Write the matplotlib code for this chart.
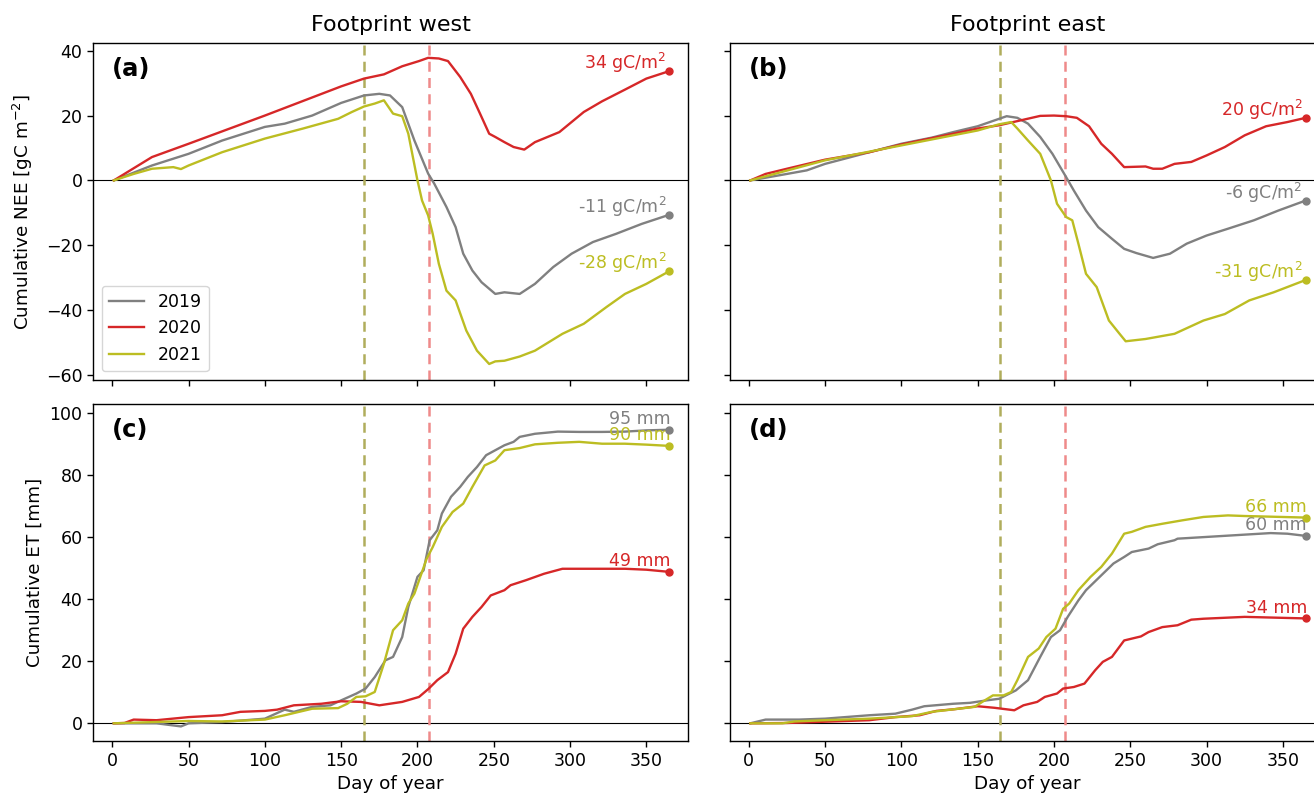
import matplotlib
matplotlib.use("Agg")
import matplotlib.pyplot as plt

plt.rcParams['font.family'] = ['DejaVu Sans']

years = ["2019", "2020", "2021"]
colors = ["#808080", "#d62728", "#bcbd22"]
panel_titles = ["Footprint west", "Footprint east"]
panel_letters = ["(a)", "(b)", "(c)", "(d)"]
xticks = [0, 50, 100, 150, 200, 250, 300, 350]
nee_yticks = [-60, -40, -20, 0, 20, 40]
et_yticks = [0, 20, 40, 60, 80, 100]
vline_days = [164.7, 207.4]
vline_colors = ["#b0ad5c", "#ef8a8a"]

# ---------- NEE west (a) ----------
nee_w_2019_d = [1, 26, 50, 72, 100, 113, 131, 150, 165, 175, 182, 190, 198, 207, 211, 219, 225, 230, 236, 242, 251, 257, 267, 277, 289, 301, 315, 330, 347, 365]
nee_w_2019_v = [0, 4.6, 8.2, 12.3, 16.5, 17.5, 20, 23.9, 26.2, 26.7, 26.2, 22.6, 12.3, 2.1, -1, -8.2, -14.4, -22.6, -27.8, -31.4, -35, -34.5, -35, -31.9, -26.7, -22.6, -19, -16.5, -13.4, -10.6]
nee_w_2020_d = [1, 26, 50, 100, 150, 165, 178, 190, 201, 207, 214, 220, 228, 235, 241, 247, 251, 257, 263, 270, 277, 293, 309, 321, 336, 350, 365]
nee_w_2020_v = [0, 7.2, 11.3, 20, 29, 31.4, 32.7, 35.2, 36.8, 37.8, 37.6, 36.8, 31.9, 26.7, 20.6, 14.4, 13.4, 11.8, 10.3, 9.5, 11.8, 14.9, 21.1, 24.4, 28, 31.4, 33.7]
nee_w_2021_d = [1, 14, 26, 40, 45, 50, 72, 100, 125, 148, 157, 165, 172, 178, 184, 190, 194, 200, 203, 207, 210, 214, 219, 225, 232, 239, 247, 251, 257, 267, 277, 295, 309, 324, 336, 350, 365]
nee_w_2021_v = [0, 2, 3.6, 4.1, 3.5, 4.6, 8.7, 12.9, 16, 19, 21.1, 22.8, 23.7, 24.7, 20.6, 19.8, 14.4, 0, -6.2, -10.8, -16.5, -25.7, -34, -37, -46.3, -52.5, -56.6, -55.8, -55.6, -54.3, -52.5, -47.3, -44.2, -39, -35, -31.9, -28]

# ---------- NEE east (b) ----------
nee_e_2019_d = [1, 25, 38, 50, 79, 100, 120, 134, 150, 161, 169, 176, 183, 191, 199, 208, 213, 221, 229, 238, 246, 254, 265, 276, 287, 300, 314, 331, 347, 365]
nee_e_2019_v = [0, 2, 3.1, 5.1, 8.7, 11.3, 13.2, 14.9, 16.7, 18.5, 19.8, 19.3, 17.5, 13.4, 8.2, 1, -3.1, -9.3, -14.4, -18, -21.1, -22.4, -23.9, -22.6, -19.5, -17, -14.9, -12.3, -9.3, -6.2]
nee_e_2020_d = [1, 11, 25, 50, 79, 100, 134, 150, 164, 178, 191, 200, 208, 215, 223, 231, 238, 246, 260, 265, 271, 279, 290, 300, 312, 325, 339, 353, 365]
nee_e_2020_v = [0, 2, 3.6, 6.4, 8.7, 11.1, 14.4, 16, 17, 18.5, 19.9, 20, 19.8, 19.3, 16.7, 11.3, 8.2, 4.1, 4.3, 3.6, 3.6, 5.1, 5.7, 7.7, 10.3, 13.9, 16.7, 18, 19.3]
nee_e_2021_d = [1, 50, 100, 150, 164, 172, 176, 183, 191, 198, 202, 208, 212, 216, 221, 228, 236, 243, 247, 260, 279, 298, 312, 328, 344, 365]
nee_e_2021_v = [0, 6.2, 10.8, 15.4, 17.3, 18, 16, 12.3, 8.2, 0, -7.2, -11.3, -12.3, -19.5, -28.8, -32.9, -43.2, -47.3, -49.6, -48.9, -47.3, -43.2, -41.2, -37, -34.5, -30.7]

# ---------- ET west (c) ----------
et_w_2019_d = [1, 29, 45, 50, 72, 100, 108, 113, 119, 131, 143, 150, 160, 166, 172, 179, 184, 190, 194, 200, 204, 208, 213, 216, 222, 228, 233, 239, 245, 251, 257, 263, 267, 277, 292, 306, 321, 336, 350, 365]
et_w_2019_v = [0, 0, -1, 0, 0.4, 1.5, 3.3, 4.4, 3.7, 5.3, 5.8, 7.4, 9.6, 11.2, 14.9, 20.3, 21.4, 27.8, 37.5, 47.2, 49.3, 59, 62.2, 67.6, 73, 76.2, 79.4, 82.6, 86.4, 88, 89.6, 90.7, 92.3, 93.3, 94, 93.9, 93.9, 94, 94.4, 94.6]
et_w_2020_d = [1, 8, 14, 29, 50, 72, 84, 100, 108, 119, 137, 150, 163, 175, 190, 201, 207, 213, 220, 225, 230, 236, 242, 248, 257, 261, 271, 283, 295, 306, 336, 350, 365]
et_w_2020_v = [0, 0.1, 1.2, 1, 2, 2.6, 3.7, 4, 4.4, 5.8, 6.3, 7.1, 6.9, 5.8, 6.9, 8.5, 11, 13.9, 16.5, 22.4, 30.5, 34.3, 37.5, 41.2, 42.9, 44.5, 46.1, 48.2, 49.8, 49.8, 49.8, 49.5, 48.8]
et_w_2021_d = [1, 50, 72, 100, 113, 131, 148, 154, 160, 166, 172, 178, 184, 190, 194, 198, 206, 210, 216, 223, 230, 236, 244, 251, 257, 267, 277, 292, 306, 321, 336, 350, 365]
et_w_2021_v = [0, 0.75, 0.6, 1.2, 2.6, 4.7, 4.9, 6.3, 8.5, 8.7, 10.1, 19.2, 30, 33.2, 38.6, 41.8, 53, 56.8, 63.3, 68.1, 70.8, 76.2, 83.1, 84.7, 88, 88.7, 89.9, 90.4, 90.7, 90.1, 90.1, 89.8, 89.4]

# ---------- ET east (d) ----------
et_e_2019_d = [1, 11, 33, 50, 79, 96, 107, 115, 134, 145, 156, 164, 175, 183, 191, 198, 204, 209, 216, 221, 230, 239, 246, 251, 262, 268, 279, 281, 298, 325, 342, 353, 365]
et_e_2019_v = [0, 1.2, 1.2, 1.5, 2.6, 3.1, 4.4, 5.5, 6.3, 6.6, 7.4, 7.9, 10.6, 13.9, 21.4, 27.8, 30, 34.3, 39.6, 42.9, 47.2, 51.5, 53.6, 55.2, 56.3, 57.7, 59, 59.5, 60, 60.8, 61.3, 61.1, 60.4]
et_e_2020_d = [1, 25, 79, 96, 112, 123, 134, 150, 161, 174, 180, 189, 194, 202, 206, 213, 220, 227, 232, 238, 246, 257, 262, 271, 281, 290, 298, 325, 365]
et_e_2020_v = [0, 0.1, 1, 2, 2.6, 4, 4.5, 5.5, 5, 4.2, 5.8, 6.9, 8.5, 9.6, 11.2, 11.7, 12.8, 17.1, 19.8, 21.4, 26.7, 28, 29.4, 31, 31.6, 33.4, 33.7, 34.3, 33.8]
et_e_2021_d = [1, 22, 30, 50, 79, 107, 120, 134, 148, 153, 160, 167, 172, 176, 183, 190, 195, 201, 206, 210, 216, 224, 231, 238, 246, 251, 260, 271, 284, 298, 314, 325, 365]
et_e_2021_v = [0, 0, 0.6, 1, 1.5, 2.3, 3.7, 4.5, 5.3, 6.9, 9, 9, 10.1, 13.9, 21.4, 24.1, 27.8, 30.5, 36.9, 38.6, 42.9, 47.2, 50.4, 54.7, 61.1, 61.7, 63.3, 64.3, 65.4, 66.5, 67, 66.8, 66.3]

nee_w = [(nee_w_2019_d, nee_w_2019_v), (nee_w_2020_d, nee_w_2020_v), (nee_w_2021_d, nee_w_2021_v)]
nee_e = [(nee_e_2019_d, nee_e_2019_v), (nee_e_2020_d, nee_e_2020_v), (nee_e_2021_d, nee_e_2021_v)]
et_w = [(et_w_2019_d, et_w_2019_v), (et_w_2020_d, et_w_2020_v), (et_w_2021_d, et_w_2021_v)]
et_e = [(et_e_2019_d, et_e_2019_v), (et_e_2020_d, et_e_2020_v), (et_e_2021_d, et_e_2021_v)]

nee_w_labels = ["-11 gC/m$^2$", "34 gC/m$^2$", "-28 gC/m$^2$"]
nee_e_labels = ["-6 gC/m$^2$", "20 gC/m$^2$", "-31 gC/m$^2$"]
et_w_labels = ["95 mm", "49 mm", "90 mm"]
et_e_labels = ["60 mm", "34 mm", "66 mm"]

W, H = 1314, 795
fig = plt.figure(figsize=(W / 100, H / 100), dpi=100)

def rect(l, t, r, b):
    return [l / W, (H - b) / H, (r - l) / W, (b - t) / H]

width_px = 688 - 93.3
ax_a = fig.add_axes(rect(93.3, 43.3, 688, 379.7))
ax_b = fig.add_axes(rect(729.8, 43.3, 729.8 + width_px, 379.7), sharex=ax_a, sharey=ax_a)
ax_c = fig.add_axes(rect(93.3, 404.3, 688, 741), sharex=ax_a)
ax_d = fig.add_axes(rect(729.8, 404.3, 729.8 + width_px, 741), sharex=ax_a, sharey=ax_c)

FS = 12.5
LFS = 13.2
panels = [(ax_a, nee_w, nee_w_labels, (-2, -3)), (ax_b, nee_e, nee_e_labels, (-2, -3)),
          (ax_c, et_w, et_w_labels, (1, 1)), (ax_d, et_e, et_e_labels, (1, 1))]

for i, (ax, data, labels, off) in enumerate(panels):
    ax.axhline(0, color="k", lw=0.8, zorder=1)
    for vd, vc in zip(vline_days, vline_colors):
        ax.axvline(vd, color=vc, lw=1.8, ls=(0, (4, 2.5)), zorder=1)
    for (d, v), c, yr, lab in zip(data, colors, years, labels):
        ax.plot(d, v, color=c, lw=1.7, label=yr, zorder=3)
        ax.plot([d[-1]], [v[-1]], "o", color=c, ms=5, zorder=4)
        ax.annotate(lab, (d[-1], v[-1]), xytext=off, textcoords="offset points",
                    ha="right", va="bottom", color=c, fontsize=FS)
    ax.text(0.032, 0.925, panel_letters[i], transform=ax.transAxes, fontsize=17.5,
            fontweight="bold", va="center", ha="left")
    ax.tick_params(labelsize=FS, length=4.3, width=1.0)
    for s in ax.spines.values():
        s.set_linewidth(1.0)

ax_a.set_xlim(-12.45, 377.3)
ax_a.set_xticks(xticks)
ax_a.set_ylim(-61.45, 42.28)
ax_a.set_yticks(nee_yticks)
ax_c.set_ylim(-5.7, 102.8)
ax_c.set_yticks(et_yticks)

for ax in [ax_a, ax_b]:
    ax.tick_params(labelbottom=False)
for ax in [ax_b, ax_d]:
    ax.tick_params(labelleft=False)

ax_a.set_title(panel_titles[0], fontsize=16, pad=9)
ax_b.set_title(panel_titles[1], fontsize=16, pad=9)
ax_a.set_ylabel("Cumulative NEE [gC m$^{-2}$]", fontsize=LFS, labelpad=8)
ax_c.set_ylabel("Cumulative ET [mm]", fontsize=LFS, labelpad=4)
ax_c.set_xlabel("Day of year", fontsize=LFS)
ax_d.set_xlabel("Day of year", fontsize=LFS)

ax_a.legend(loc="lower left", fontsize=FS)

fig.savefig("out.png", dpi=100)
